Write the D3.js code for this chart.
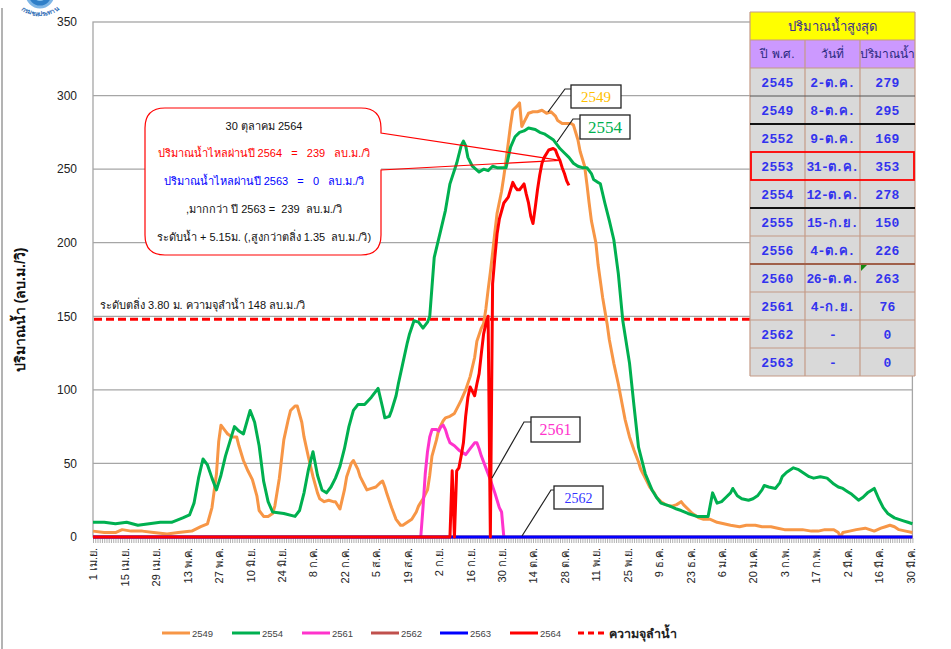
<!DOCTYPE html>
<html>
<head>
<meta charset="utf-8">
<script src="https://cdn.jsdelivr.net/npm/d3@7"></script>
<style>
  html, body { margin: 0; padding: 0; background: #fff; }
  svg { display: block; font-family: "Liberation Sans", "Noto Sans", Arial, sans-serif; }
</style>
</head>
<body>
<svg id="chart" width="951" height="649"></svg>
<script>
// ---- data: daily discharge (ลบ.ม./วิ), x = days counted from 1 เม.ย. ----
const thaiMonths = ["ม.ค.","ก.พ.","มี.ค.","เม.ย.","พ.ค.","มิ.ย.","ก.ค.","ส.ค.","ก.ย.","ต.ค.","พ.ย.","ธ.ค."];
const yTicks = [0, 50, 100, 150, 200, 250, 300, 350];
const labelStepDays = 14;
const bankCapacity = 148;

const s2549 = [[0,4],[5,3],[10,3],[13,5],[17,4],[22,4],[27,3],[33,2],[38,3],[44,4],[48,7],[51,9],[53,20],[55,43],[56,65],[57,76],[59,72],[60,70],[62,68],[64,68],[65,62],[67,52],[69,45],[71,39],[73,28],[74,18],[76,14],[78,14],[80,16],[81,21],[83,40],[85,66],[87,80],[88,86],[90,89],[91,89],[93,78],[94,68],[96,54],[98,41],[100,30],[101,26],[103,24],[105,25],[107,24],[108,24],[110,19],[112,32],[113,41],[115,50],[116,52],[118,46],[119,41],[121,35],[122,32],[124,33],[126,34],[128,37],[129,38],[130,34],[131,29],[133,20],[135,12],[137,8],[138,8],[140,10],[142,12],[144,17],[145,21],[147,26],[149,32],[150,42],[151,55],[153,66],[154,73],[156,79],[157,81],[159,82],[161,84],[163,90],[164,93],[166,100],[168,109],[170,122],[171,133],[173,142],[174,145],[175,155],[176,168],[177,180],[178,193],[179,207],[180,220],[182,235],[183,245],[184,256],[185,268],[186,280],[187,290],[189,293],[190,295],[191,279],[192,282],[194,288],[196,289],[198,289],[200,290],[202,288],[204,289],[206,286],[207,283],[209,281],[211,281],[213,281],[214,280],[216,270],[217,262],[219,252],[220,240],[221,227],[222,215],[224,200],[225,185],[227,163],[229,145],[230,134],[232,118],[234,104],[236,88],[237,80],[239,68],[241,59],[243,51],[244,46],[246,40],[248,34],[250,30],[251,27],[253,24],[255,22],[257,21],[258,21],[260,22],[262,24],[263,22],[265,19],[267,16],[270,13],[272,12],[275,12],[278,10],[281,9],[284,8],[288,7],[291,8],[295,8],[298,7],[302,7],[305,6],[308,5],[312,5],[316,5],[320,4],[323,4],[326,5],[330,5],[332,3],[333,0],[334,3],[337,4],[340,5],[344,6],[346,5],[348,4],[351,6],[353,7],[355,8],[357,7],[359,5],[362,4],[365,3]];

const s2554 = [[0,10],[5,10],[10,9],[15,10],[20,8],[25,9],[30,10],[35,10],[40,13],[43,15],[45,23],[47,40],[49,53],[51,49],[53,40],[55,32],[57,42],[59,55],[61,65],[63,75],[65,72],[67,70],[70,86],[72,78],[74,62],[76,38],[78,24],[80,17],[85,16],[90,14],[92,18],[94,30],[96,46],[98,58],[100,42],[102,32],[104,30],[106,34],[108,40],[110,48],[112,60],[114,75],[116,86],[118,90],[121,90],[124,95],[127,101],[129,88],[130,81],[132,82],[133,86],[135,96],[136,104],[138,118],[140,132],[141,138],[143,147],[145,146],[147,142],[149,146],[150,150],[151,170],[152,190],[155,209],[157,222],[159,240],[162,254],[164,266],[165,269],[166,266],[167,258],[169,252],[172,248],[174,250],[176,249],[178,252],[180,251],[184,251],[186,265],[188,272],[190,275],[192,276],[194,278],[197,277],[199,275],[201,274],[203,272],[205,270],[207,266],[208,264],[210,261],[212,258],[214,254],[216,252],[218,251],[220,251],[222,247],[223,243],[225,241],[226,240],[228,227],[230,215],[232,202],[234,179],[236,147],[239,118],[241,89],[243,61],[246,43],[249,32],[251,27],[253,23],[255,22],[257,21],[260,19],[262,18],[265,16],[269,14],[272,14],[274,14],[275,22],[276,30],[278,23],[280,24],[282,27],[284,30],[285,33],[287,28],[289,26],[292,25],[294,26],[296,28],[298,32],[299,35],[301,34],[304,33],[306,37],[307,41],[309,44],[312,47],[314,46],[317,43],[319,41],[321,40],[324,41],[327,40],[330,36],[332,34],[334,33],[336,31],[338,29],[341,25],[343,27],[345,30],[348,33],[350,26],[352,20],[354,16],[357,13],[359,12],[361,11],[363,10],[365,9]];

const s2561 = [[146,0],[147,20],[148,43],[149,58],[150,68],[151,73],[153,73],[154,72],[155,75],[156,76],[157,73],[158,68],[159,64],[161,62],[163,59],[165,57],[166,56],[168,60],[170,64],[171,64],[172,60],[173,55],[175,47],[177,39],[179,30],[180,25],[181,20],[182,17],[183,0]];

const s2562 = [[0,0],[365,0]];
const s2563 = [[0,0],[365,0]];

const s2564 = [[0,0],[159,0],[160,45],[161,0],[162,45],[163,47],[164,55],[165,64],[166,82],[167,95],[168,102],[169,99],[170,96],[171,104],[172,111],[173,125],[174,138],[175,145],[176,150],[177,0],[178,172],[179,190],[180,206],[181,216],[183,227],[185,231],[186,236],[187,241],[188,238],[189,236],[190,236],[191,238],[192,240],[193,233],[194,227],[195,218],[196,213],[197,224],[198,236],[199,246],[200,254],[201,258],[203,263],[205,264],[206,263],[207,259],[208,256],[209,251],[210,247],[211,242],[212,239]];

const seriesNames  = ["2549", "2554", "2561", "2562", "2563", "2564"];
const seriesData   = [s2549, s2554, s2561, s2562, s2563, s2564];
const seriesColors = ["#f79646", "#00b050", "#ff33cc", "#c0504d", "#0000ff", "#ff0000"];

// peak-flow table
const tableYears  = ["2545","2549","2552","2553","2554","2555","2556","2560","2561","2562","2563"];
const tableDates  = ["2-ต.ค.","8-ต.ค.","9-ต.ค.","31-ต.ค.","12-ต.ค.","15-ก.ย.","4-ต.ค.","26-ต.ค.","4-ก.ย.","-","-"];
const tableValues = ["279","295","169","353","278","150","226","263","76","0","0"];
const tableHead   = ["ปี พ.ศ.", "วันที่", "ปริมาณน้ำ"];

// ---- layout ----
const svg = d3.select("#chart");
const W = 951, H = 649;
const plot = { left: 93, right: 912.4, top: 22, bottom: 537 };
const startDate = new Date(2019, 3, 1);

const x = d3.scaleLinear().domain([0, 365]).range([plot.left, plot.right]);
const y = d3.scaleLinear().domain([0, 350]).range([plot.bottom, plot.top]);

// outer frame line on the left
svg.append("line").attr("x1", 2).attr("x2", 2).attr("y1", 8).attr("y2", H)
  .attr("stroke", "#9a9a9a").attr("stroke-width", 1.5);

// department emblem (partly clipped at the top edge)
const logo = svg.append("g");
logo.append("circle").attr("cx", 40).attr("cy", -6).attr("r", 13)
  .attr("fill", "#2f7fc8").attr("stroke", "#7fb6e6").attr("stroke-width", 3);
logo.append("circle").attr("cx", 40).attr("cy", -6).attr("r", 7).attr("fill", "#8cc4ee");
svg.append("defs").append("path").attr("id", "logoArc")
  .attr("d", "M 14 -4 A 26 20 0 0 0 66 -4");
logo.append("text").attr("font-size", 6.5).attr("fill", "#2f6db5").attr("font-weight", "bold")
  .append("textPath").attr("href", "#logoArc").attr("startOffset", "50%")
  .attr("text-anchor", "middle").text("กรมชลประทาน");

// gridlines
svg.append("g").selectAll("line").data(yTicks.filter(d => d > 0 && d < 350)).join("line")
  .attr("x1", plot.left).attr("x2", plot.right)
  .attr("y1", d => y(d)).attr("y2", d => y(d))
  .attr("stroke", "#a6a6a6").attr("stroke-width", 1.3);

// plot frame
svg.append("rect").attr("x", plot.left).attr("y", plot.top)
  .attr("width", plot.right - plot.left).attr("height", plot.bottom - plot.top)
  .attr("fill", "none").attr("stroke", "#a6a6a6").attr("stroke-width", 1.3);

// y axis labels
const yAxis = d3.axisLeft(y).tickValues(yTicks).tickSize(0).tickPadding(16);
svg.append("g").attr("transform", `translate(${plot.left},0)`).call(yAxis)
  .call(g => g.select(".domain").remove())
  .call(g => g.selectAll("text").attr("font-size", 12).attr("fill", "#222")
    .attr("font-family", "'Liberation Sans', Arial, sans-serif"));

svg.append("text").attr("transform", "translate(25,310) rotate(-90)")
  .attr("text-anchor", "middle").attr("font-size", 14).attr("font-weight", "bold")
  .attr("fill", "#111").text("ปริมาณน้ำ (ลบ.ม./วิ)");

// daily tick hatching under the zero line
const dayAxis = d3.axisBottom(x).tickValues(d3.range(0, 366)).tickSize(5).tickFormat("");
svg.append("g").attr("transform", `translate(0,${plot.bottom + 1})`).call(dayAxis)
  .call(g => g.select(".domain").remove())
  .call(g => g.selectAll("line").attr("stroke", "#9a9a9a").attr("stroke-width", 0.8));

// two-week date labels
const fmtDay = d => {
  const dt = d3.timeDay.offset(startDate, d);
  return `${dt.getDate()} ${thaiMonths[dt.getMonth()]}`;
};
const labelAxis = d3.axisBottom(x).tickValues(d3.range(0, 366, labelStepDays)).tickSize(0).tickFormat(fmtDay);
svg.append("g").attr("transform", `translate(0,${plot.bottom})`).call(labelAxis)
  .call(g => g.select(".domain").remove())
  .call(g => g.selectAll("text")
    .attr("font-size", 11).attr("fill", "#222")
    .attr("text-anchor", "end")
    .attr("transform", "rotate(-90)")
    .attr("x", -11).attr("y", 0).attr("dy", "0.35em"));

// bank-full capacity line
svg.append("line").attr("x1", plot.left + 1).attr("x2", plot.right)
  .attr("y1", y(bankCapacity)).attr("y2", y(bankCapacity))
  .attr("stroke", "#ff0000").attr("stroke-width", 3).attr("stroke-dasharray", "8,4");
svg.append("text").attr("x", 100).attr("y", 309).attr("font-size", 11).attr("fill", "#111")
  .text("ระดับตลิ่ง 3.80 ม. ความจุลำน้ำ 148 ลบ.ม./วิ");

// series lines
const line = d3.line().x(d => x(d[0])).y(d => y(d[1]));
svg.append("g").selectAll("path").data(seriesData).join("path")
  .attr("d", line).attr("fill", "none")
  .attr("stroke", (d, i) => seriesColors[i]).attr("stroke-width", 3)
  .attr("stroke-linejoin", "round");

// series name callouts
function seriesTag(label, color, box, leader, fs) {
  svg.append("polyline").attr("points", leader.map(p => p.join(",")).join(" "))
    .attr("fill", "none").attr("stroke", "#222").attr("stroke-width", 1.2);
  svg.append("rect").attr("x", box[0]).attr("y", box[1]).attr("width", box[2]).attr("height", box[3])
    .attr("fill", "#fff").attr("stroke", "#222").attr("stroke-width", 1.3);
  svg.append("text").attr("x", box[0] + box[2] / 2).attr("y", box[1] + box[3] / 2)
    .attr("dy", "0.36em").attr("text-anchor", "middle")
    .attr("font-family", "'Liberation Serif', 'Times New Roman', serif")
    .attr("font-size", fs).attr("fill", color).text(label);
}
seriesTag("2549", "#ffc000", [571, 85, 50, 23], [[571, 89], [565, 89], [548, 112]], 15);
seriesTag("2554", "#00b050", [580, 115, 50, 24], [[580, 119], [573, 119], [557, 142]], 17);
seriesTag("2561", "#ff33cc", [531, 417, 49, 25], [[531, 422], [524, 422], [492, 478]], 16);
seriesTag("2562", "#3333ff", [554, 486, 49, 23], [[554, 490], [551, 490], [522, 536]], 14);

// annotation callout for 30 ต.ค. 2564
const bx0 = 145, bx1 = 381, by0 = 108, by1 = 255, br = 20;
const tip = [x(208), y(256)];
svg.append("rect").attr("x", bx0).attr("y", by0).attr("width", bx1 - bx0).attr("height", by1 - by0)
  .attr("rx", br).attr("fill", "#fff");
svg.append("path").attr("fill", "none").attr("stroke", "#ff0000").attr("stroke-width", 1.2)
  .attr("d", `M${bx0 + br},${by0} H${bx1 - br} Q${bx1},${by0} ${bx1},${by0 + br} V133 L${tip[0]},${tip[1]} L${bx1},170 V${by1 - br} Q${bx1},${by1} ${bx1 - br},${by1} H${bx0 + br} Q${bx0},${by1} ${bx0},${by1 - br} V${by0 + br} Q${bx0},${by0} ${bx0 + br},${by0} Z`);

const noteLines = [
  { t: "30 ตุลาคม 2564", c: "#111", y: 130 },
  { t: "ปริมาณน้ำไหลผ่านปี 2564   =   239   ลบ.ม./วิ", c: "#ff0000", y: 157 },
  { t: "ปริมาณน้ำไหลผ่านปี 2563   =   0   ลบ.ม./วิ", c: "#0000ff", y: 185 },
  { t: ",มากกว่า ปี 2563 =  239  ลบ.ม./วิ", c: "#111", y: 213 },
  { t: "ระดับน้ำ + 5.15ม. (,สูงกว่าตลิ่ง 1.35  ลบ.ม./วิ)", c: "#111", y: 241 }
];
svg.append("g").selectAll("text").data(noteLines).join("text")
  .attr("x", 264).attr("y", d => d.y).attr("text-anchor", "middle")
  .attr("font-size", 11).attr("fill", d => d.c)
  .style("white-space", "pre").attr("xml:space", "preserve").text(d => d.t);

// peak-flow table
const tx = [750, 805, 860, 915];
const tTop = 12, tHead = 40, tBody = 68, rowH = 28;
const tBottom = tBody + rowH * tableYears.length;
const tbl = svg.append("g");
tbl.append("rect").attr("x", tx[0]).attr("y", tTop).attr("width", tx[3] - tx[0]).attr("height", tHead - tTop)
  .attr("fill", "#ffff00");
tbl.append("rect").attr("x", tx[0]).attr("y", tHead).attr("width", tx[3] - tx[0]).attr("height", tBody - tHead)
  .attr("fill", "#cc99ff");
tbl.append("rect").attr("x", tx[0]).attr("y", tBody).attr("width", tx[3] - tx[0]).attr("height", tBottom - tBody)
  .attr("fill", "#d9d9d9");
tbl.append("text").attr("x", (tx[0] + tx[3]) / 2).attr("y", (tTop + tHead) / 2).attr("dy", "0.35em")
  .attr("text-anchor", "middle").attr("font-size", 13).attr("fill", "#3a2f8f").text("ปริมาณน้ำสูงสุด");
tbl.selectAll("text.head").data(tableHead).join("text").attr("class", "head")
  .attr("x", (d, i) => (tx[i] + tx[i + 1]) / 2).attr("y", (tHead + tBody) / 2).attr("dy", "0.35em")
  .attr("text-anchor", "middle").attr("font-size", 12).attr("fill", "#2a2a80").text(d => d);

const rows = tableYears.map((yr, i) => [yr, tableDates[i], tableValues[i]]);
rows.forEach((r, i) => {
  r.forEach((v, j) => {
    tbl.append("text").attr("x", (tx[j] + tx[j + 1]) / 2).attr("y", tBody + rowH * i + rowH / 2)
      .attr("dy", "0.36em").attr("text-anchor", "middle")
      .attr("font-family", "'Liberation Mono', 'DejaVu Sans Mono', monospace")
      .attr("font-weight", "bold").attr("font-size", 13)
      .attr("letter-spacing", j === 1 ? -0.6 : 0.3)
      .attr("fill", "#3333ee").text(v);
  });
});

// table rules
const brown = "#c49a86";
tx.forEach(xx => tbl.append("line").attr("x1", xx).attr("x2", xx).attr("y1", tHead).attr("y2", tBottom)
  .attr("stroke", brown).attr("stroke-width", 1.2));
[tx[0], tx[3]].forEach(xx => tbl.append("line").attr("x1", xx).attr("x2", xx).attr("y1", tTop).attr("y2", tHead)
  .attr("stroke", brown).attr("stroke-width", 1.2));
// horizontal rules: [y, colour, width]
const hRules = [
  [tTop, brown, 1.2], [tHead, brown, 1.2], [tBody, brown, 1.2],
  [tBody + rowH * 1, "#555", 1.2],
  [tBody + rowH * 2, "#111", 2],
  [tBody + rowH * 5, "#111", 2],
  [tBody + rowH * 6, brown, 1.2],
  [tBody + rowH * 7, "#a0604a", 2],
  [tBody + rowH * 8, brown, 1.2],
  [tBody + rowH * 9, brown, 1.2],
  [tBody + rowH * 10, brown, 1.2],
  [tBottom, brown, 1.2]
];
tbl.selectAll("line.h").data(hRules).join("line").attr("class", "h")
  .attr("x1", tx[0]).attr("x2", tx[3]).attr("y1", d => d[0]).attr("y2", d => d[0])
  .attr("stroke", d => d[1]).attr("stroke-width", d => d[2]);
// highlighted record year
tbl.append("rect").attr("x", tx[0] + 1).attr("y", tBody + rowH * 3).attr("width", tx[3] - tx[0] - 2).attr("height", rowH)
  .attr("fill", "none").attr("stroke", "#ff0000").attr("stroke-width", 1.8);
// cell comment marker
tbl.append("path").attr("d", `M${tx[2] + 1},${tBody + rowH * 7 + 1} h6 l-6,6 z`).attr("fill", "#138a13");

// legend
const legendX = [162, 232, 302, 371, 440, 510];
const lg = svg.append("g");
seriesNames.forEach((n, i) => {
  lg.append("line").attr("x1", legendX[i]).attr("x2", legendX[i] + 28).attr("y1", 633).attr("y2", 633)
    .attr("stroke", seriesColors[i]).attr("stroke-width", 3);
  lg.append("text").attr("x", legendX[i] + 30).attr("y", 636.5).attr("font-size", 9.5)
    .attr("fill", "#444").text(n);
});
lg.append("line").attr("x1", 578).attr("x2", 606).attr("y1", 633).attr("y2", 633)
  .attr("stroke", "#ff0000").attr("stroke-width", 3).attr("stroke-dasharray", "6,4");
lg.append("text").attr("x", 609).attr("y", 637.5).attr("font-size", 12.5).attr("font-weight", "bold")
  .attr("fill", "#222").text("ความจุลำน้ำ");
</script>
</body>
</html>
